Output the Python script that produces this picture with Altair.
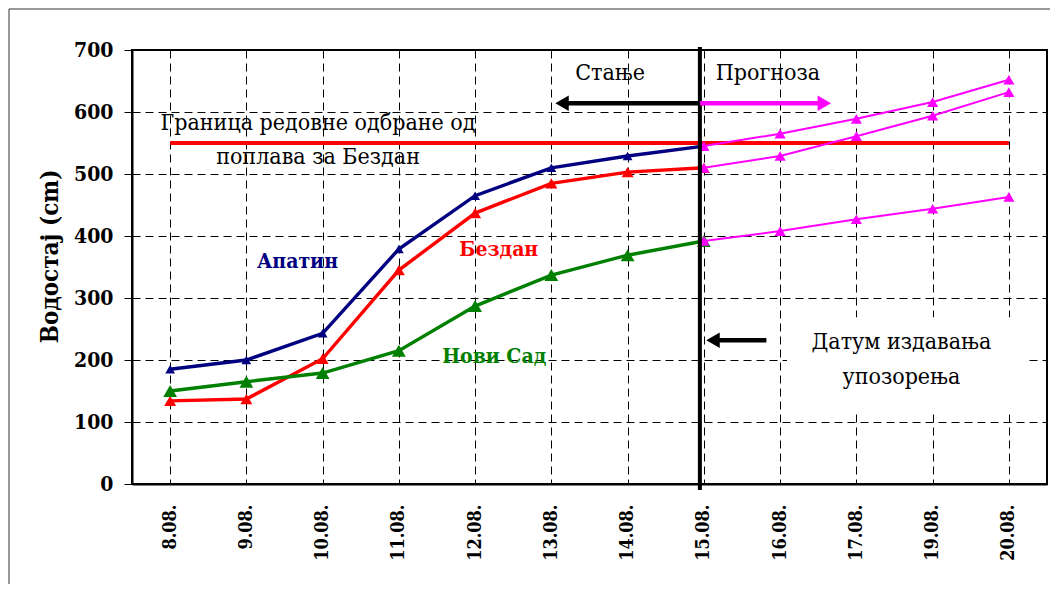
import json
import altair as alt
import pandas as pd

# ---------------- data ----------------
dates = ["8.08.", "9.08.", "10.08.", "11.08.", "12.08.", "13.08.",
         "14.08.", "15.08.", "16.08.", "17.08.", "19.08.", "20.08."]

series_names = ["Апатин", "Бездан", "Нови Сад"]
apatin = [185, 200, 243, 379, 465, 510, 529, 545]
bezdan = [134, 137, 202, 345, 437, 485, 503, 510]
novi_sad = [150, 165, 179, 215, 287, 337, 369, 392]

apatin_fc = [545, 565, 589, 616, 652]
bezdan_fc = [510, 529, 561, 594, 632]
novi_sad_fc = [392, 408, 427, 444, 463]

threshold = 550
issue_idx = 7

hist_rows = []
for name, vals in zip(series_names, [apatin, bezdan, novi_sad]):
    for i, v in enumerate(vals):
        hist_rows.append({"i": i, "v": v, "s": name})
hist = pd.DataFrame(hist_rows)

fc_rows = []
for name, vals in zip(series_names, [apatin_fc, bezdan_fc, novi_sad_fc]):
    for k, v in enumerate(vals):
        fc_rows.append({"i": issue_idx + k, "v": v, "s": name})
fc = pd.DataFrame(fc_rows)

FONT = "DejaVu Serif Condensed"
label_expr = json.dumps(dates) + "[datum.value]"

X = alt.X("i:Q",
          scale=alt.Scale(domain=[-0.5, 11.5], nice=False, zero=False),
          axis=alt.Axis(values=list(range(len(dates))), labelExpr=label_expr,
                        labelAngle=-90, labelAlign="right", labelBaseline="middle",
                        ticks=False, tickSize=0, labelPadding=20,
                        grid=True, gridDash=[8, 5], gridColor="black", gridWidth=1,
                        labelFont=FONT, labelFontSize=18, labelFontWeight="bold",
                        labelColor="black", domainColor="black", domainWidth=2,
                        title=None))
Y = alt.Y("v:Q",
          scale=alt.Scale(domain=[0, 700], nice=False),
          axis=alt.Axis(values=list(range(0, 701, 100)), tickSize=8, tickColor="black",
                        labelPadding=11, grid=True, gridDash=[8, 5], gridColor="black",
                        gridWidth=1, labelFont=FONT, labelFontSize=21,
                        labelFontWeight="bold", labelColor="black",
                        domainColor="black", domainWidth=2,
                        title="Водостај (cm)", titleFont=FONT, titleFontSize=24,
                        titleFontWeight="bold", titleColor="black",
                        titleX=-70, titleY=206))

hist_colors = alt.Scale(domain=series_names, range=["#000080", "#FF0000", "#008000"])
hist_sizes = alt.Scale(domain=series_names, range=[95, 190, 115])

box = alt.Chart(pd.DataFrame({"i": [8.09], "i2": [11.24], "v": [269], "v2": [119]})).mark_rect(
    fill="white").encode(x=X, x2="i2:Q", y=Y, y2="v2:Q")

thr = alt.Chart(pd.DataFrame({"i": [0], "i2": [len(dates) - 1], "v": [threshold]})).mark_rule(
    color="#FF0000", strokeWidth=4).encode(x=X, x2="i2:Q", y=Y)

hist_lines = alt.Chart(hist).mark_line(strokeWidth=3.4).encode(
    x=X, y=Y, color=alt.Color("s:N", scale=hist_colors, legend=None), detail="s:N")
hist_pts = alt.Chart(hist).mark_point(shape="triangle-up", filled=True, opacity=1).encode(
    x=X, y=Y, color=alt.Color("s:N", scale=hist_colors, legend=None),
    size=alt.Size("s:N", scale=hist_sizes, legend=None))

fc_lines = alt.Chart(fc).mark_line(strokeWidth=2, color="#FF00FF").encode(
    x=X, y=Y, detail="s:N")
fc_pts = alt.Chart(fc).mark_point(shape="triangle-up", filled=True, opacity=1,
                                  color="#FF00FF", size=125).encode(x=X, y=Y)

vline = alt.Chart(pd.DataFrame({"i": [issue_idx]})).mark_rule(
    color="black", strokeWidth=4, xOffset=-4).encode(
    x=X, y=alt.value(-3), y2=alt.value(440))

arrows = pd.DataFrame({
    "i": [7.0, 6.95, 7.12],
    "i2": [5.14, 8.58, 7.82],
    "v": [614, 614, 232],
    "c": ["black", "magenta", "black2"],
})
arrow_colors = alt.Scale(domain=["black", "magenta", "black2"],
                         range=["black", "#FF00FF", "black"])
arrow_lines = alt.Chart(arrows).mark_rule(strokeWidth=4.5).encode(
    x=X, x2="i2:Q", y=Y, color=alt.Color("c:N", scale=arrow_colors, legend=None))

heads = pd.DataFrame({
    "i": [5.14, 8.58, 7.12],
    "v": [614, 614, 232],
    "c": ["black", "magenta", "black2"],
    "shape": ["triangle-left", "triangle-right", "triangle-left"],
})
arrow_heads = alt.Chart(heads).mark_point(filled=True, opacity=1, size=240).encode(
    x=X, y=Y, color=alt.Color("c:N", scale=arrow_colors, legend=None),
    shape=alt.Shape("shape:N", scale=None))

notes = pd.DataFrame({
    "i": [5.77, 7.84, 1.94, 1.94, 9.59, 9.59],
    "v": [663, 663, 582, 527, 229, 173],
    "t": ["Стање", "Прогноза", "Граница редовне одбране од", "поплава за Бездан",
          "Датум издавања", "упозорења"],
})
note_text = alt.Chart(notes).mark_text(font=FONT, fontSize=23, color="black",
                                       align="center", baseline="middle").encode(
    x=X, y=Y, text="t:N")

labels = pd.DataFrame({
    "i": [1.67, 4.31, 4.25],
    "v": [358, 377, 205],
    "s": series_names,
})
series_text = alt.Chart(labels).mark_text(font=FONT, fontSize=21, fontWeight="bold",
                                          align="center", baseline="middle").encode(
    x=X, y=Y, text="s:N", color=alt.Color("s:N", scale=hist_colors, legend=None))

frame = alt.Chart(pd.DataFrame({"a": [0]})).mark_rect(
    fillOpacity=0, stroke="#333333", strokeWidth=1).encode(
    x=alt.value(-123), x2=alt.value(1000), y=alt.value(-41), y2=alt.value(700))

chart = alt.layer(
    box, thr, hist_lines, hist_pts, fc_lines, fc_pts, vline,
    arrow_lines, arrow_heads, note_text, series_text, frame
).resolve_scale(color="independent").properties(
    width=915, height=434,
    autosize=alt.AutoSizeParams(type="none"),
    padding={"left": 124, "top": 42, "right": 3, "bottom": 100},
).configure_view(stroke="black", strokeWidth=2)

chart.save("out.html", embed_options={"renderer": "svg", "actions": False})
